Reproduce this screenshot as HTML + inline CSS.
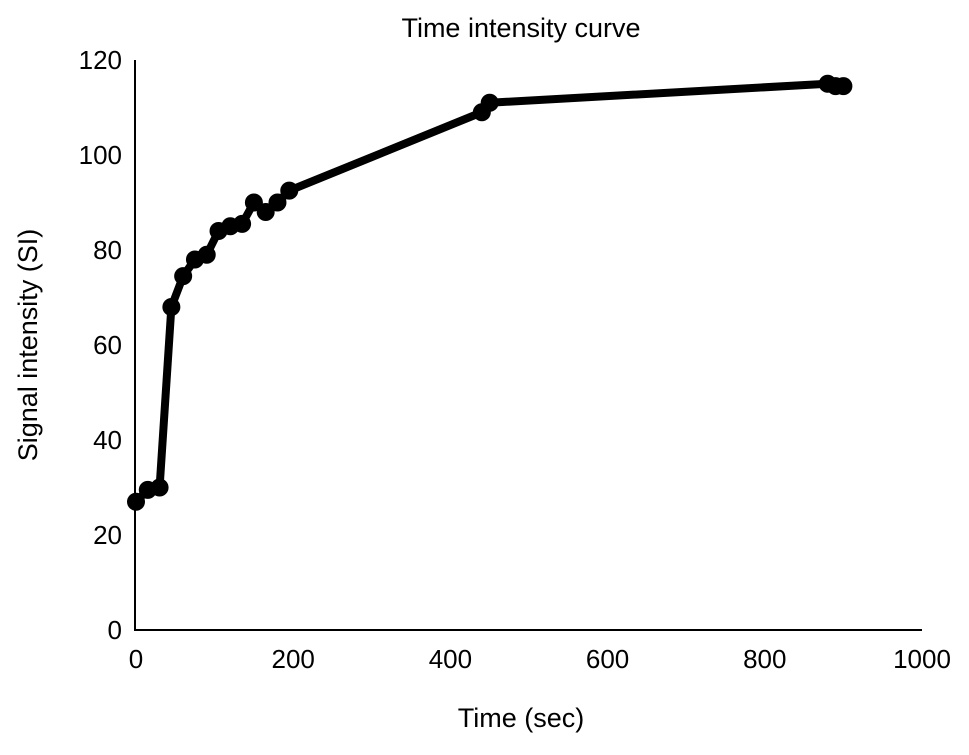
<!DOCTYPE html>
<html><head><meta charset="utf-8"><style>
body{margin:0;background:#fff;}
svg text{font-family:"Liberation Sans",Arial,sans-serif;fill:#000;}
</style></head><body>
<svg id="chart" width="969" height="750" xmlns="http://www.w3.org/2000/svg">
<text x="521" y="37" font-size="27" text-anchor="middle">Time intensity curve</text>
<text x="521" y="727" font-size="27" text-anchor="middle">Time (sec)</text>
<text transform="translate(37,345) rotate(-90)" font-size="27" text-anchor="middle">Signal intensity (SI)</text>
<g id="axes"></g>
<g id="marks"></g>
</svg>
<script>
const times=[0,15,30,45,60,75,90,105,120,135,150,165,180,195,440,450,880,890,900];
const intensities=[27,29.5,30,68,74.5,78,79,84,85,85.5,90,88,90,92.5,109,111,115,114.5,114.5];
const xTicks=[0,200,400,600,800,1000];
const yTicks=[0,20,40,60,80,100,120];
const X0=136,X1=922,Y0=630,Y1=60;
const xs=v=>X0+(v/1000)*(X1-X0);
const ys=v=>Y0-(v/120)*(Y0-Y1);
const NS="http://www.w3.org/2000/svg";
const axes=document.getElementById('axes'),marks=document.getElementById('marks');
function mk(t,a,p){const e=document.createElementNS(NS,t);for(const k in a)e.setAttribute(k,a[k]);p.appendChild(e);return e;}
let l=mk('line',{x1:X0-1,y1:Y1,x2:X0-1,y2:Y0,stroke:'#000','stroke-width':2},axes);


l=mk('line',{x1:X0-2,y1:Y0,x2:X1,y2:Y0,stroke:'#000','stroke-width':2},axes);


xTicks.forEach(v=>{const t=mk('text',{x:xs(v),y:Y0+38,'font-size':26,'text-anchor':'middle'},axes);t.textContent=v;

});
yTicks.forEach(v=>{const t=mk('text',{x:X0-14,y:ys(v)+9,'font-size':26,'text-anchor':'end'},axes);t.textContent=v;

});
const pl=mk('polyline',{points:times.map((t,i)=>xs(t)+','+ys(intensities[i])).join(' '),fill:'none',stroke:'#000','stroke-width':8,'stroke-linejoin':'round'},marks);


times.forEach((t,i)=>{const c=mk('circle',{cx:xs(t),cy:ys(intensities[i]),r:9,fill:'#000'},marks);

});
</script>
</body></html>
